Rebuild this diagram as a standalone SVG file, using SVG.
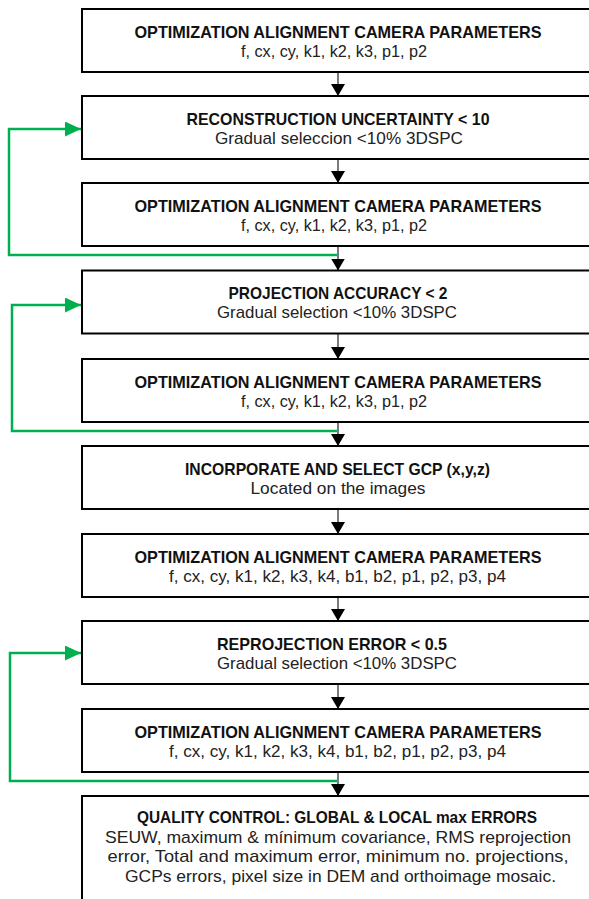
<svg xmlns="http://www.w3.org/2000/svg" width="589" height="899" viewBox="0 0 589 899">
<style>
.box{fill:#fff;stroke:#000;stroke-width:2}
.t{font-family:"Liberation Sans",Arial,sans-serif;font-size:17px;font-weight:700;fill:#111;text-anchor:middle}
.s{font-family:"Liberation Sans",Arial,sans-serif;font-size:17px;font-weight:400;fill:#222;text-anchor:middle}
.ar{fill:none;stroke:#222;stroke-width:1.2}
.gr{fill:none;stroke:#00b050;stroke-width:2.5}
</style>
<defs>
<marker id="ab" markerUnits="userSpaceOnUse" viewBox="0 0 12 14" markerWidth="12" markerHeight="14" refX="12" refY="7" orient="auto"><path d="M0,0 L12,7 L0,14 z" fill="#000"/></marker>
<marker id="ag" markerUnits="userSpaceOnUse" viewBox="0 0 16 15" markerWidth="16" markerHeight="15" refX="16" refY="7.5" orient="auto"><path d="M0,0 L16,7.5 L0,15 z" fill="#00b050"/></marker>
</defs>
<g id="connectors">
<path class="ar" d="M338,72 V96" marker-end="url(#ab)"/>
<path class="ar" d="M338,159 V183" marker-end="url(#ab)"/>
<path class="ar" d="M338,246 V270.5" marker-end="url(#ab)"/>
<path class="ar" d="M338,333.5 V359" marker-end="url(#ab)"/>
<path class="ar" d="M338,422 V446" marker-end="url(#ab)"/>
<path class="ar" d="M338,509 V534" marker-end="url(#ab)"/>
<path class="ar" d="M338,597 V621" marker-end="url(#ab)"/>
<path class="ar" d="M338,684 V709" marker-end="url(#ab)"/>
<path class="ar" d="M338,772 V796" marker-end="url(#ab)"/>
<path class="gr" d="M337,255 H9 V129 H81" marker-end="url(#ag)"/>
<path class="gr" d="M337,431 H12 V305 H81" marker-end="url(#ag)"/>
<path class="gr" d="M337,781 H10 V653 H81" marker-end="url(#ag)"/>
</g>
<g id="n1"><rect class="box" x="82" y="9" width="520" height="63"/>
<text class="t" x="338" y="37.5" textLength="407" lengthAdjust="spacingAndGlyphs">OPTIMIZATION ALIGNMENT CAMERA PARAMETERS</text>
<text class="s" x="334" y="56.5" textLength="186" lengthAdjust="spacingAndGlyphs">f, cx, cy, k1, k2, k3, p1, p2</text></g>
<g id="n2"><rect class="box" x="82" y="96" width="520" height="63"/>
<text class="t" x="338" y="124.5" textLength="303" lengthAdjust="spacingAndGlyphs">RECONSTRUCTION UNCERTAINTY &lt; 10</text>
<text class="s" x="339" y="143.5" textLength="248" lengthAdjust="spacingAndGlyphs">Gradual seleccion &lt;10% 3DSPC</text></g>
<g id="n3"><rect class="box" x="82" y="183" width="520" height="63"/>
<text class="t" x="338" y="211.5" textLength="407" lengthAdjust="spacingAndGlyphs">OPTIMIZATION ALIGNMENT CAMERA PARAMETERS</text>
<text class="s" x="334" y="230.5" textLength="186" lengthAdjust="spacingAndGlyphs">f, cx, cy, k1, k2, k3, p1, p2</text></g>
<g id="n4"><rect class="box" x="82" y="270.5" width="520" height="63"/>
<text class="t" x="338" y="299" textLength="219" lengthAdjust="spacingAndGlyphs">PROJECTION ACCURACY &lt; 2</text>
<text class="s" x="337" y="318" textLength="240" lengthAdjust="spacingAndGlyphs">Gradual selection &lt;10% 3DSPC</text></g>
<g id="n5"><rect class="box" x="82" y="359" width="520" height="63"/>
<text class="t" x="338" y="387.5" textLength="407" lengthAdjust="spacingAndGlyphs">OPTIMIZATION ALIGNMENT CAMERA PARAMETERS</text>
<text class="s" x="334" y="406.5" textLength="186" lengthAdjust="spacingAndGlyphs">f, cx, cy, k1, k2, k3, p1, p2</text></g>
<g id="n6"><rect class="box" x="82" y="446" width="520" height="63"/>
<text class="t" x="337.5" y="474.5" textLength="305" lengthAdjust="spacingAndGlyphs">INCORPORATE AND SELECT GCP (x,y,z)</text>
<text class="s" x="338" y="493.5" textLength="175" lengthAdjust="spacingAndGlyphs">Located on the images</text></g>
<g id="n7"><rect class="box" x="82" y="534" width="520" height="63"/>
<text class="t" x="338" y="562.5" textLength="407" lengthAdjust="spacingAndGlyphs">OPTIMIZATION ALIGNMENT CAMERA PARAMETERS</text>
<text class="s" x="337.5" y="581.5" textLength="337" lengthAdjust="spacingAndGlyphs">f, cx, cy, k1, k2, k3, k4, b1, b2, p1, p2, p3, p4</text></g>
<g id="n8"><rect class="box" x="82" y="621" width="520" height="63"/>
<text class="t" x="332" y="649.5" textLength="230" lengthAdjust="spacingAndGlyphs">REPROJECTION ERROR  &lt; 0.5</text>
<text class="s" x="337" y="668.5" textLength="240" lengthAdjust="spacingAndGlyphs">Gradual selection &lt;10% 3DSPC</text></g>
<g id="n9"><rect class="box" x="82" y="709" width="520" height="63"/>
<text class="t" x="338" y="737.5" textLength="407" lengthAdjust="spacingAndGlyphs">OPTIMIZATION ALIGNMENT CAMERA PARAMETERS</text>
<text class="s" x="337.5" y="756.5" textLength="337" lengthAdjust="spacingAndGlyphs">f, cx, cy, k1, k2, k3, k4, b1, b2, p1, p2, p3, p4</text></g>
<g id="n10"><rect class="box" x="82" y="796" width="520" height="120"/>
<text class="t" x="337" y="823" textLength="400" lengthAdjust="spacingAndGlyphs">QUALITY CONTROL: GLOBAL &amp; LOCAL max ERRORS</text>
<text class="s" x="338" y="842.5" textLength="466" lengthAdjust="spacingAndGlyphs">SEUW, maximum &amp; mínimum covariance, RMS reprojection</text>
<text class="s" x="338" y="862" textLength="461" lengthAdjust="spacingAndGlyphs">error, Total and maximum error, minimum no. projections,</text>
<text class="s" x="340.5" y="881.5" textLength="431" lengthAdjust="spacingAndGlyphs">GCPs errors, pixel size in DEM and orthoimage mosaic.</text></g>
</svg>
